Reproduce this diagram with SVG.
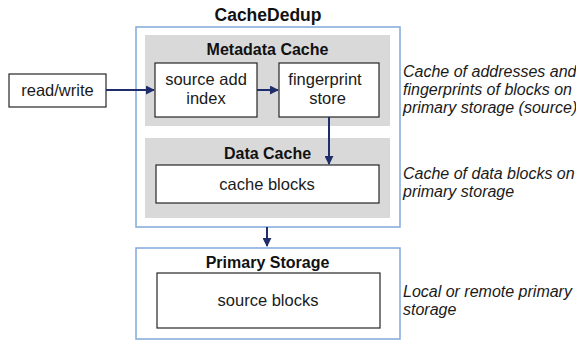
<svg xmlns="http://www.w3.org/2000/svg" width="576" height="341" viewBox="0 0 576 341">
<style>
.box{fill:#fff;stroke:#262626;stroke-width:1.2}
.cont{fill:#fff;stroke:#7fa9dc;stroke-width:1.5}
.gray{fill:#d9d9d9;stroke:none}
.t{font-family:"Liberation Sans",Arial,sans-serif;font-size:16.5px;fill:#1a1a1a;text-anchor:middle}
.b{font-family:"Liberation Sans",Arial,sans-serif;font-size:16px;font-weight:bold;fill:#111;text-anchor:middle}
.h{font-family:"Liberation Sans",Arial,sans-serif;font-size:17.5px;font-weight:bold;fill:#111;text-anchor:middle}
.i{font-family:"Liberation Sans",Arial,sans-serif;font-size:16px;font-style:italic;fill:#1a1a1a}
.c{stroke:#1f2d6b;stroke-width:2;fill:none;marker-end:url(#ah)}
</style>
<defs>
<marker id="ah" viewBox="0 0 10 10" refX="9" refY="5" markerWidth="4.5" markerHeight="4.5" orient="auto" markerUnits="strokeWidth">
<path d="M0,0 L10,5 L0,10 z" fill="#1f2d6b"/>
</marker>
</defs>
<g id="cachededup">
<rect class="cont" x="136" y="27" width="264" height="200"/>
<text class="h" x="268" y="21">CacheDedup</text>
</g>
<g id="metadata-cache">
<rect class="gray" x="145" y="35" width="245" height="91"/>
<text class="b" x="267.5" y="55">Metadata Cache</text>
</g>
<g id="data-cache">
<rect class="gray" x="145" y="138" width="245" height="80"/>
<text class="b" x="267.5" y="159">Data Cache</text>
</g>
<g id="read-write">
<rect class="box" x="9" y="74" width="97" height="33"/>
<text class="t" x="57.5" y="96">read/write</text>
</g>
<g id="source-add-index">
<rect class="box" x="155" y="63" width="102" height="54"/>
<text class="t" x="206" y="85">source add</text>
<text class="t" x="206" y="104">index</text>
</g>
<g id="fingerprint-store">
<rect class="box" x="279" y="63" width="100" height="54"/>
<text class="t" x="325" y="85">fingerprint</text>
<text class="t" x="327.5" y="104">store</text>
</g>
<g id="cache-blocks">
<rect class="box" x="156" y="165" width="223" height="38"/>
<text class="t" x="267" y="190">cache blocks</text>
</g>
<g id="primary-storage">
<rect class="cont" x="136" y="248" width="264" height="91"/>
<text class="b" x="267.5" y="268">Primary Storage</text>
</g>
<g id="source-blocks">
<rect class="box" x="157" y="273" width="223" height="55"/>
<text class="t" x="268" y="306">source blocks</text>
</g>
<g id="notes">
<text class="i" x="403" y="77">Cache of addresses and</text>
<text class="i" x="403" y="95">fingerprints of blocks on</text>
<text class="i" x="403" y="113">primary storage (source)</text>
<text class="i" x="403" y="179">Cache of data blocks on</text>
<text class="i" x="403" y="197">primary storage</text>
<text class="i" x="403" y="297">Local or remote primary</text>
<text class="i" x="403" y="315">storage</text>
</g>
<g id="connectors">
<line class="c" x1="106" y1="90" x2="154" y2="90"/>
<line class="c" x1="257" y1="90" x2="278" y2="90"/>
<line class="c" x1="329" y1="117" x2="329" y2="164"/>
<line class="c" x1="267" y1="227" x2="267" y2="246"/>
</g>
</svg>
